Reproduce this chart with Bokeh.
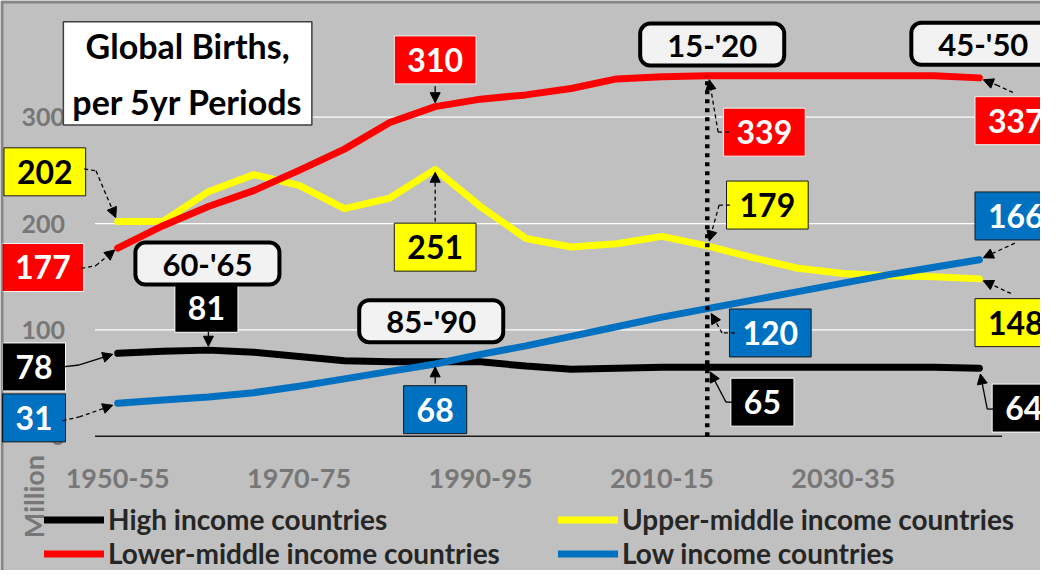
import math
from bokeh.plotting import figure
from bokeh.models import (Range1d, FixedTicker, Label, Arrow, NormalHead, Legend,
                          LegendItem, BoxAnnotation)
from bokeh.embed import file_html
from bokeh.resources import INLINE

# ---------------- data ----------------
periods = ["1950-55", "1955-60", "1960-65", "1965-70", "1970-75", "1975-80", "1980-85",
           "1985-90", "1990-95", "1995-00", "2000-05", "2005-10", "2010-15", "2015-20",
           "2020-25", "2025-30", "2030-35", "2035-40", "2040-45", "2045-50"]
high = [78, 80, 81, 79, 75, 71, 70, 70, 70, 66, 63, 64, 65, 65, 65, 65, 65, 65, 65, 64]
upper = [202, 202, 230, 246, 236, 214, 224, 251, 216, 186, 178, 181, 188, 179, 168, 158, 153, 151, 150, 148]
lower = [177, 198, 216, 231, 250, 270, 295, 310, 317, 321, 327, 336, 338, 339, 339, 339, 339, 339, 339, 337]
low = [31, 34, 37, 41, 47, 54, 61, 68, 77, 85, 94, 103, 112, 120, 128, 136, 144, 152, 159, 166]
series_names = ["High income countries", "Upper-middle income countries",
                "Lower-middle income countries", "Low income countries"]
series_colors = ["#000000", "#ffff00", "#ff0000", "#0070c0"]
y_ticks = [0, 100, 200, 300]
x_tick_idx = [0, 4, 8, 12, 16]
title_text = "Global Births,\nper 5yr Periods"
y_label = "Million"

# ---------------- layout ----------------
W, H = 1040, 570
SX, SY = W / 1056.0, H / 586.0
PXX = 46.05 * SX                 # px per period
PXY = (328.0 / 300.0) * SY       # px per million
x_start = -(119.0 * SX) / PXX
y_start = -(H - 448.0 * SY) / PXY
BG = "#c0c0c0"
GRAY = "#777777"
FONT = "Lato"

p = figure(width=W, height=H, output_backend="svg", toolbar_location=None,
           x_range=Range1d(x_start, x_start + W / PXX),
           y_range=Range1d(y_start, y_start + H / PXY))
p.min_border = 0
p.min_border_left = 0
p.min_border_right = 0
p.min_border_top = 0
p.min_border_bottom = 0
p.background_fill_color = BG
p.border_fill_color = BG
p.outline_line_color = None
p.xgrid.visible = False
p.ygrid.visible = False

n = len(periods)
# grid lines and zero line
p.segment(x0=[-0.5] * 3, x1=[n - 0.5] * 3, y0=y_ticks[1:], y1=y_ticks[1:],
          line_color="white", line_width=1.3)
p.segment(x0=[-0.5], x1=[n - 0.5], y0=[y_ticks[0]], y1=[y_ticks[0]],
          line_color="#1a1a1a", line_width=1.5)

# axes (fixed inside the frame)
xa = p.xaxis[0]
xa.fixed_location = y_ticks[0]
xa.ticker = FixedTicker(ticks=x_tick_idx)
xa.major_label_overrides = {i: periods[i] for i in x_tick_idx}
xa.axis_line_color = None
xa.major_tick_line_color = None
xa.minor_tick_line_color = None
xa.major_tick_out = 0
xa.major_tick_in = 0
xa.major_label_standoff = 33
xa.major_label_text_font = FONT
xa.major_label_text_font_style = "bold"
xa.major_label_text_font_size = "27px"
xa.major_label_text_color = GRAY

ya = p.yaxis[0]
ya.fixed_location = -0.5
ya.ticker = FixedTicker(ticks=y_ticks)
ya.axis_line_color = None
ya.major_tick_line_color = None
ya.minor_tick_line_color = None
ya.major_tick_out = 0
ya.major_tick_in = 0
ya.major_label_standoff = 30
ya.major_label_text_font = FONT
ya.major_label_text_font_style = "bold"
ya.major_label_text_font_size = "25px"
ya.major_label_text_color = GRAY

# series
xs = list(range(n))
all_series = [high, upper, lower, low]
renderers = []
for vals, col in zip(all_series, series_colors):
    r = p.line(xs, vals, line_color=col, line_width=7, line_join="round", line_cap="round")
    renderers.append(r)

# drop line at 2015-20
p.segment(x0=[13], x1=[13], y0=[y_ticks[0]], y1=[lower[13]],
          line_color="black", line_width=4.5, line_dash="4 5")

# ---------------- annotations ----------------
def at(i, v, dx, dy):
    return i + dx * SX / PXX, v + dy * SY / PXY


def box(i, v, dx, dy, text, fill, color, border, size=32, padx=13, pady=12, radius=0, bw=1.0):
    p.add_layout(Label(x=i, y=v, x_offset=dx * SX, y_offset=dy * SY, text=text,
                       text_font=FONT, text_font_style="bold", text_font_size=f"{size}px",
                       text_color=color, text_align="center", text_baseline="middle",
                       background_fill_color=fill, border_line_color=border,
                       border_line_width=bw, border_radius=radius,
                       padding=dict(left=padx, right=padx, top=pady, bottom=pady)))


def conn(i, v, pts, dash="solid"):
    for k in range(len(pts) - 1):
        x0, y0 = at(i, v, *pts[k])
        x1, y1 = at(i, v, *pts[k + 1])
        last = k == len(pts) - 2
        head = NormalHead(size=10, fill_color="black", line_color="black", line_width=1) if last else None
        p.add_layout(Arrow(x_start=x0, y_start=y0, x_end=x1, y_end=y1, start=None, end=head,
                           line_color="black", line_width=1.3, line_dash=dash))


def period_tag(k):
    s = periods[k]
    return s[2:4] + "-'" + s[5:7]


def period_box(i, v, dx, dy):
    box(i, v, dx, dy, period_tag(i), "#f2f2f2", "black", "black", size=31,
        padx=27, pady=2, radius=10, bw=4)


STYLE = {
    0: ("#000000", "white", "white"),
    1: ("#ffff00", "black", "#1a1a1a"),
    2: ("#ff0000", "white", "#f2f2f2"),
    3: ("#0070c0", "white", "#1a1a1a"),
}


def vbox(s, i, dx, dy):
    fill, col, border = STYLE[s]
    box(i, all_series[s][i], dx, dy, str(all_series[s][i]), fill, col, border)


DASH = "4 3"
# 1950-55
vbox(1, 0, -74, 51); conn(0, upper[0], [(-34, 54), (-22, 52), (-2, 4)], DASH)
vbox(2, 0, -76, -20); conn(0, lower[0], [(-37, -21), (-22, -18), (-3, -2)], DASH)
vbox(0, 0, -85, -14); conn(0, high[0], [(-56, -14), (-39, -12), (-5, -1)])
vbox(3, 0, -85, -15); conn(0, low[0], [(-56, -18), (-39, -14), (-5, -2)], DASH)
# 1960-65
vbox(0, 2, -2, 43); conn(2, high[2], [(0, 19), (0, 4)])
period_box(2, high[2], -1, 89)
# 1985-90
vbox(2, 7, 0, 48); conn(7, lower[7], [(0, 21), (0, 4)])
vbox(1, 7, 0, -80); conn(7, upper[7], [(0, -54), (0, -3)], DASH)
vbox(3, 7, 0, -47); conn(7, low[7], [(0, -20), (0, -3)])
period_box(7, low[7], -4, 44)
# 2015-20
period_box(13, lower[13], 5, 32)
vbox(2, 13, 58, -58); conn(13, lower[13], [(22, -58), (11, -58), (2, -4)], DASH)
vbox(1, 13, 61, 42); conn(13, upper[13], [(23, 42), (12, 42), (2, 5)], DASH)
vbox(3, 13, 64, -25); conn(13, low[13], [(28, -25), (15, -25), (4, -5)], DASH)
vbox(0, 13, 56, -36); conn(13, high[13], [(29, -36), (19, -36), (3, -5)])
# 2045-50
period_box(19, lower[19], 4, 35)
vbox(2, 19, 37, -44); conn(19, lower[19], [(34, -15), (19, -8), (4, -2)], DASH)
vbox(3, 19, 37, 45); conn(19, low[19], [(36, 17), (23, 11), (4, 2)], DASH)
vbox(1, 19, 37, -45); conn(19, upper[19], [(32, -15), (4, -2)], DASH)
vbox(0, 19, 45, -41); conn(19, high[19], [(19, -42), (8, -42), (1, -6)])

# title
p.add_layout(Label(x=190 * SX, y=H - 75 * SY, x_units="screen", y_units="screen", text=title_text,
                   text_font=FONT, text_font_style="bold", text_font_size="34px",
                   text_color="black", text_align="center", text_baseline="middle",
                   text_line_height=1.37,
                   background_fill_color="white", border_line_color="#3f3f3f",
                   border_line_width=1.5,
                   padding=dict(left=9, right=9, top=3, bottom=3)))

# y unit label
p.add_layout(Label(x=33 * SX, y=H - 510 * SY, x_units="screen", y_units="screen", text=y_label,
                   angle=math.pi / 2, text_font=FONT, text_font_style="bold",
                   text_font_size="27px", text_color=GRAY, text_align="center",
                   text_baseline="middle"))

# legend
items = [LegendItem(label=series_names[k], renderers=[renderers[k]]) for k in range(4)]
legend = Legend(items=items, location=(44, 0), orientation="horizontal", ncols=2,
                glyph_width=60, glyph_height=25, label_height=25, label_width=450,
                label_standoff=4, spacing=0, padding=0, margin=0,
                border_line_color=None, background_fill_alpha=0,
                label_text_font=FONT, label_text_font_style="bold",
                label_text_font_size="28px", label_text_color="#262626")
p.add_layout(legend)

# outer frame (top/left edges)
p.add_layout(BoxAnnotation(left=1.5, right=3 * W, top=H - 1.5, bottom=-3 * H,
                           left_units="screen", right_units="screen",
                           top_units="screen", bottom_units="screen",
                           fill_alpha=0, line_color="black", line_width=3))

open("out.html", "w").write(file_html(p, INLINE))
